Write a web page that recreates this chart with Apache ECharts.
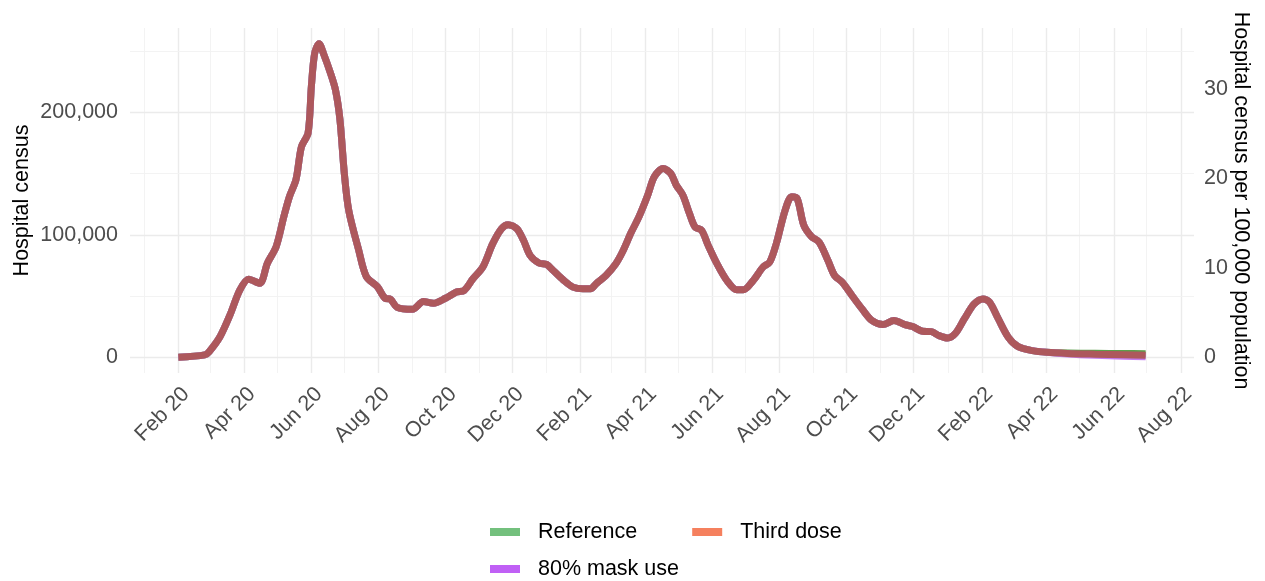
<!DOCTYPE html>
<html><head><meta charset="utf-8">
<script src="https://cdn.jsdelivr.net/npm/echarts@6/dist/echarts.min.js"></script>
<style>html,body{margin:0;padding:0;background:#fff}#c{width:1265px;height:581px}</style>
</head><body><div id="c"></div>
<script>
// ---- data ----
const histDates = [
 '2020-02-01','2020-02-25','2020-02-29','2020-03-10','2020-03-19','2020-03-28','2020-04-05','2020-04-15','2020-04-22','2020-04-30',
 '2020-05-07','2020-05-12','2020-05-18','2020-05-23','2020-05-29','2020-06-01','2020-06-04','2020-06-08','2020-06-12','2020-06-18',
 '2020-06-23','2020-06-27','2020-07-01','2020-07-05','2020-07-14','2020-07-21','2020-07-31','2020-08-07','2020-08-12','2020-08-18',
 '2020-09-01','2020-09-11','2020-09-20','2020-10-01','2020-10-11','2020-10-18','2020-10-26','2020-11-04','2020-11-13','2020-11-21',
 '2020-11-27','2020-12-05','2020-12-11','2020-12-17','2020-12-25','2021-01-01','2021-01-07','2021-01-16','2021-01-25','2021-02-03',
 '2021-02-10','2021-02-15','2021-02-24','2021-03-05','2021-03-11','2021-03-19','2021-03-26','2021-04-03','2021-04-09','2021-04-17',
 '2021-04-24','2021-04-29','2021-05-05','2021-05-11','2021-05-16','2021-05-22','2021-05-28','2021-06-05','2021-06-14','2021-06-23',
 '2021-06-29','2021-07-08','2021-07-17','2021-07-23','2021-07-29','2021-08-06','2021-08-12','2021-08-17','2021-08-23','2021-08-30',
 '2021-09-06','2021-09-14','2021-09-20','2021-09-27','2021-10-07','2021-10-15','2021-10-24','2021-11-03','2021-11-13','2021-11-23',
 '2021-11-30','2021-12-09','2021-12-17','2021-12-24','2022-01-01','2022-01-08','2022-01-16','2022-01-25','2022-02-02','2022-02-08',
 '2022-02-16','2022-02-25','2022-03-06','2022-03-19','2022-04-01'
];
const histValues = [
 0,2000,4600,17000,34600,55000,63700,60500,76800,90400,
 115000,131000,145000,172000,183000,221000,248000,256000,248000,233000,
 218000,194000,150000,120000,87700,65900,57700,48200,47400,40800,
 39200,45500,44100,48200,53300,54600,64100,73700,92800,105000,
 108300,105000,95500,83200,77000,75800,70900,63300,57300,55900,
 55900,60000,66800,76400,85900,102000,114600,132300,147300,154100,
 150000,140500,132300,117300,106400,103700,91400,76400,62700,55100,
 55100,62700,73700,77700,92800,120000,131000,129600,107800,98600,
 94000,79000,66800,61300,49000,39500,30000,26700,30000,26700,
 25100,21300,21000,17700,15800,19600,31300,43600,47700,45000,
 31300,16400,8700,5450,4100
];
const projDates = ['2022-04-20','2022-05-15','2022-06-10','2022-06-30'];
const referenceProj = [3500,3300,3100,2900];
const thirdDoseProj = [3200,2600,2100,1700];
const maskProj = [2800,1700,900,500];

const seriesNames = ['Reference','Third dose','80% mask use'];
const legendColors = ['#73C07D','#F5805E','#C060F5'];

const xMajorTicks = ['2020-02-01','2020-04-01','2020-06-01','2020-08-01','2020-10-01','2020-12-01',
 '2021-02-01','2021-04-01','2021-06-01','2021-08-01','2021-10-01','2021-12-01',
 '2022-02-01','2022-04-01','2022-06-01','2022-08-01'];
const xMinorTicks = ['2020-01-01','2020-03-01','2020-05-01','2020-07-01','2020-09-01','2020-11-01',
 '2021-01-01','2021-03-01','2021-05-01','2021-07-01','2021-09-01','2021-11-01',
 '2022-01-01','2022-03-01','2022-05-01','2022-07-01'];
const monthNames = ['Jan','Feb','Mar','Apr','May','Jun','Jul','Aug','Sep','Oct','Nov','Dec'];
const yMajorTicks = [0,100000,200000];
const yMinorTicks = [50000,150000,250000];
const rightTicks = [0,10,20,30];
const censusPerRateUnit = 7306; // hospital census equal to 1 per 100,000 population

// ---- build ----
const ts = d => Date.parse(d + 'T00:00:00Z');
function build(proj){
  const out = histDates.map((d,i)=>[ts(d), histValues[i]]);
  projDates.forEach((d,i)=>out.push([ts(d), proj[i]]));
  return out;
}
const allDates = histDates.concat(projDates).map(ts);
const xFirst = Math.min(...allDates), xLast = Math.max(...allDates);
const xSpan = xLast - xFirst;
const yMaxVal = Math.max(...histValues);
const yMin = -0.05*yMaxVal, yMax = 1.05*yMaxVal;

const FONT = "'Liberation Sans', Arial, sans-serif";
const FS = 21.5;
const chart = echarts.init(document.getElementById('c'), null, {renderer:'canvas'});

const gridLines = [];
xMajorTicks.forEach(d=>gridLines.push({xAxis: ts(d), lineStyle:{color:'#EBEBEB', width:1.4, type:'solid'}}));
xMinorTicks.forEach(d=>gridLines.push({xAxis: ts(d), lineStyle:{color:'#F2F2F2', width:0.9, type:'solid'}}));
yMajorTicks.forEach(v=>gridLines.push({yAxis: v, lineStyle:{color:'#EBEBEB', width:1.4, type:'solid'}}));
yMinorTicks.forEach(v=>gridLines.push({yAxis: v, lineStyle:{color:'#F2F2F2', width:0.9, type:'solid'}}));

const common = {type:'line', showSymbol:false, smooth:0.3, animation:false, silent:true};

chart.setOption({
  useUTC: true,
  animation: false,
  backgroundColor:'#ffffff',
  grid: {left:130, right:71, top:28, bottom:208, containLabel:false, outerBoundsMode:'none'},
  xAxis: {
    type:'time', min: xFirst - 0.05*xSpan, max: xLast + 0.05*xSpan,
    minInterval: 28*864e5, maxInterval: 31*864e5,
    axisLine:{show:false}, axisTick:{show:false}, splitLine:{show:false},
    axisLabel:{
      rotate:45, margin:10, verticalAlign:'top', color:'#4D4D4D', fontSize:FS, fontFamily:FONT,
      formatter: function(v){
        const d = new Date(v);
        if (d.getUTCDate()!==1 || d.getUTCHours()!==0) return '';
        const m = d.getUTCMonth();
        if (m % 2 !== 1) return '';
        return monthNames[m] + ' ' + String(d.getUTCFullYear()).slice(2);
      }
    }
  },
  yAxis: [
    {type:'value', min:yMin, max:yMax, position:'left',
     name:'Hospital census', nameLocation:'middle', nameGap:97, nameRotate:90, nameMoveOverlap:false,
     nameTextStyle:{color:'#000', fontSize:FS, fontFamily:FONT},
     axisLine:{show:false}, axisTick:{show:false}, splitLine:{show:false},
     axisLabel:{margin:12, color:'#4D4D4D', fontSize:FS, fontFamily:FONT,
       formatter: v => yMajorTicks.includes(v) ? v.toLocaleString('en-US') : ''}},
    {type:'value', min:yMin/censusPerRateUnit, max:yMax/censusPerRateUnit, position:'right',
     name:'Hospital census per 100,000 population', nameLocation:'middle', nameGap:36, nameRotate:-90, nameMoveOverlap:false,
     nameTextStyle:{color:'#000', fontSize:FS, fontFamily:FONT},
     axisLine:{show:false}, axisTick:{show:false}, splitLine:{show:false},
     axisLabel:{margin:10, color:'#4D4D4D', fontSize:FS, fontFamily:FONT,
       formatter: v => rightTicks.includes(v) ? String(v) : ''}}
  ],
  legend: [
    {data:[{name:seriesNames[0], itemStyle:{color:legendColors[0], borderWidth:0}},
           {name:seriesNames[1], itemStyle:{color:legendColors[1], borderWidth:0}}],
     left:490, top:521, padding:0, icon:'rect', itemWidth:30, itemHeight:8, itemGap:55, selectedMode:false,
     textStyle:{fontSize:FS, color:'#000', fontFamily:FONT, padding:[0,0,0,13]}},
    {data:[{name:seriesNames[2], itemStyle:{color:legendColors[2], borderWidth:0}}],
     left:490, top:558, padding:0, icon:'rect', itemWidth:30, itemHeight:8, selectedMode:false,
     textStyle:{fontSize:FS, color:'#000', fontFamily:FONT, padding:[0,0,0,13]}}
  ],
  series: [
    {type:'line', data:[], silent:true, z:1, animation:false,
     markLine:{silent:true, z:0, symbol:['none','none'], label:{show:false}, animation:false, data:gridLines}},
    Object.assign({}, common, {name:seriesNames[0], data:build(referenceProj), color:legendColors[0], z:2,
      lineStyle:{color:'#5C9E4C', width:7}}),
    Object.assign({}, common, {name:seriesNames[2], data:build(maskProj), color:legendColors[2], z:3,
      lineStyle:{color:'#C47CF0', width:7}}),
    Object.assign({}, common, {name:seriesNames[1], data:build(thirdDoseProj), color:legendColors[1], z:4,
      lineStyle:{color:'#AD585C', width:7}})
  ]
});
</script></body></html>
